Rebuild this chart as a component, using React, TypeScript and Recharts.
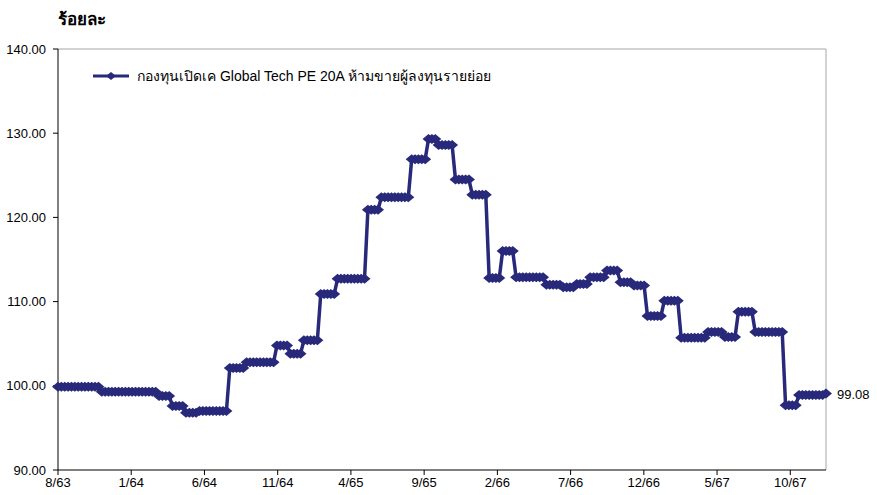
import { LineChart, Line, XAxis, YAxis, ReferenceLine, LabelList } from "recharts";

const levels = [
  99.9, 99.3, 98.8, 97.6, 96.8, 97.0, 102.1, 102.8, 104.8, 103.8, 105.4, 110.9, 112.7,
  120.9, 122.4, 126.9, 129.3, 128.6, 124.5, 122.7, 112.8, 116.0, 112.9, 112.0, 111.7,
  112.1, 112.9, 113.7, 112.3, 111.9, 108.3, 110.1, 105.7, 106.4, 105.8, 108.8, 106.4,
  97.7, 98.9,
];
const weeksAtLevel = [
  13, 17, 4, 4, 4, 9, 5, 9, 4, 4, 5, 5, 9, 4, 9, 5, 3, 5, 5, 5, 4, 4, 9, 5, 4, 4, 5, 4,
  4, 4, 5, 5, 8, 5, 4, 5, 9, 4, 9,
];
const lastValue = 99.08;

const tickLabels = ["8/63", "1/64", "6/64", "11/64", "4/65", "9/65", "2/66", "7/66", "12/66", "5/67", "10/67"];
const yTicks = [90, 100, 110, 120, 130, 140];

const seriesName = "กองทุนเปิดเค Global Tech PE 20A ห้ามขายผู้ลงทุนรายย่อย";
const NAVY = "#28297A";
const FONT = '"Liberation Sans", Arial, sans-serif';
const WEEKS_PER_TICK = 21.74; // 5 months

const data: { week: number; value: number }[] = [];
levels.forEach((v, i) => {
  for (let k = 0; k < weeksAtLevel[i]; k++) data.push({ week: data.length, value: v });
});
data[data.length - 1].value = lastValue;
const lastWeek = data.length - 1;

function Diamond(props: any) {
  const { cx, cy } = props;
  if (cx == null || cy == null) return null;
  return (
    <polygon
      points={`${cx - 6},${cy} ${cx},${cy - 5} ${cx + 6},${cy} ${cx},${cy + 5}`}
      fill={NAVY}
      stroke="none"
    />
  );
}

function LegendBox() {
  return (
    <div
      style={{
        position: "absolute",
        left: 93,
        top: 65,
        display: "flex",
        alignItems: "center",
        fontFamily: FONT,
        fontSize: 14,
        color: "#000",
        whiteSpace: "nowrap",
      }}
    >
      <svg width={36} height={10} style={{ marginRight: 8 }}>
        <line x1={0} y1={5} x2={36} y2={5} stroke={NAVY} strokeWidth={3} />
        <polygon points="13,5 18,1 23,5 18,9" fill={NAVY} />
      </svg>
      <span>{seriesName}</span>
    </div>
  );
}

export default function App() {
  return (
    <div style={{ position: "absolute", left: 0, top: 0, width: 877, height: 495, background: "#fff" }}>
      <div
        style={{
          position: "absolute",
          left: 58,
          top: 5,
          fontFamily: FONT,
          fontWeight: "bold",
          fontSize: 17,
          color: "#000",
        }}
      >
        ร้อยละ
      </div>
      <LineChart width={877} height={495} data={data} margin={{ top: 49, right: 51, bottom: 0, left: 0 }}>
        <XAxis
          dataKey="week"
          type="number"
          domain={[0, lastWeek]}
          ticks={tickLabels.map((_, i) => i * WEEKS_PER_TICK)}
          tickFormatter={(v: number) => tickLabels[Math.round(v / WEEKS_PER_TICK)]}
          height={25}
          stroke="#000"
          tickSize={5}
          tickMargin={3}
          tick={{ fill: "#000", fontSize: 13, fontFamily: FONT }}
          interval={0}
        />
        <YAxis
          domain={[90, 140]}
          ticks={yTicks}
          tickFormatter={(v: number) => v.toFixed(2)}
          width={58}
          stroke="#000"
          tickSize={5}
          tickMargin={7}
          tick={{ fill: "#000", fontSize: 13, fontFamily: FONT }}
          interval={0}
        />
        <ReferenceLine y={140} stroke="#a6a6a6" strokeWidth={1} />
        <ReferenceLine x={lastWeek} stroke="#a6a6a6" strokeWidth={1} />
        <Line
          dataKey="value"
          name={seriesName}
          stroke={NAVY}
          strokeWidth={3.5}
          dot={<Diamond />}
          activeDot={false}
          isAnimationActive={false}
        >
          <LabelList
            dataKey="value"
            content={(p: any) =>
              p.index === lastWeek ? (
                <text x={p.x + 11} y={p.y + 5} fontSize={13} fontFamily={FONT} fill="#000">
                  {lastValue.toFixed(2)}
                </text>
              ) : null
            }
          />
        </Line>
      </LineChart>
      <LegendBox />
    </div>
  );
}
